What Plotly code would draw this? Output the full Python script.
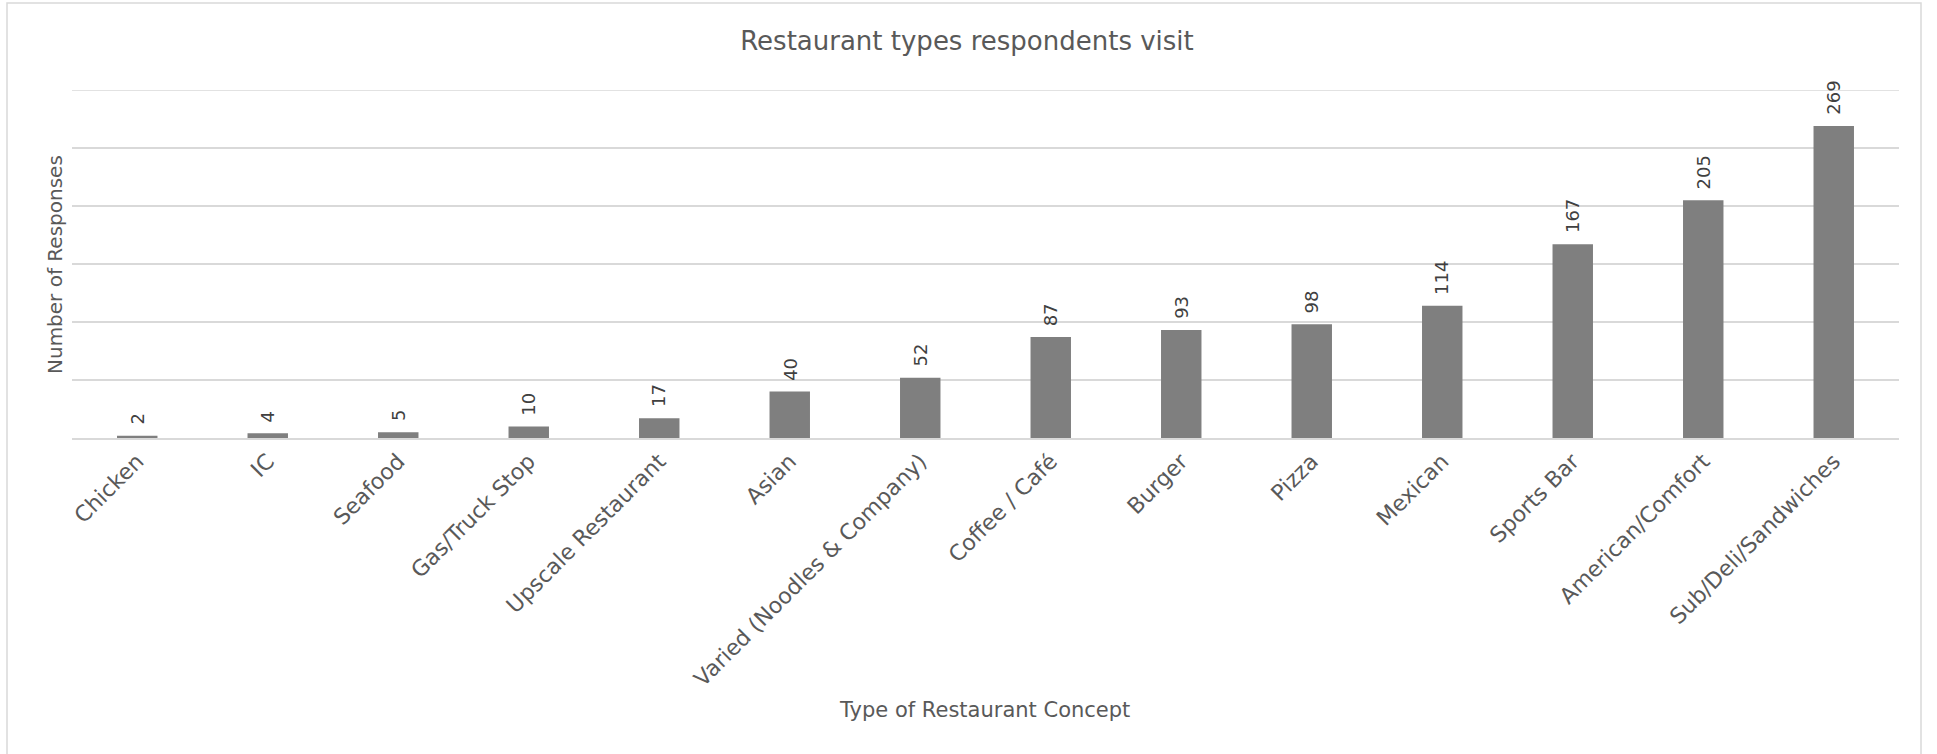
import plotly.graph_objects as go

categories = ["Chicken", "IC", "Seafood", "Gas/Truck Stop", "Upscale Restaurant", "Asian",
              "Varied (Noodles & Company)", "Coffee / Café", "Burger", "Pizza", "Mexican",
              "Sports Bar", "American/Comfort", "Sub/Deli/Sandwiches"]
responses = [2, 4, 5, 10, 17, 40, 52, 87, 93, 98, 114, 167, 205, 269]

title_text = "Restaurant types respondents visit"
x_title = "Type of Restaurant Concept"
y_title = "Number of Responses"

FONT = "DejaVu Sans"
TXT = "#595959"

W, H = 1937, 754
L, R, T, B = 72, 38, 90, 316
pw = W - L - R
ph = H - T - B

fig = go.Figure()
fig.add_trace(go.Bar(
    x=categories, y=responses,
    marker=dict(color="#7f7f7f", line=dict(width=0)),
    hoverinfo="x+y",
))

# value labels, rotated, above each bar
for c, v in zip(categories, responses):
    fig.add_annotation(x=c, y=v, xref="x", yref="y", text=str(v),
                       textangle=-90, showarrow=False,
                       xanchor="center", yanchor="bottom", yshift=9,
                       font=dict(family=FONT, size=18, color="#404040"))

fig.update_layout(
    width=W, height=H,
    margin=dict(l=L, r=R, t=T, b=B, autoexpand=False),
    paper_bgcolor="white", plot_bgcolor="white",
    bargap=0.69,
    showlegend=False,
    font=dict(family=FONT, color=TXT),
    title=dict(text=title_text, x=(967 - L) / pw, xref="paper", xanchor="center",
               y=1 - 41 / H, yanchor="middle",
               font=dict(family=FONT, size=26, color=TXT)),
    xaxis=dict(
        tickangle=-45,
        tickfont=dict(family=FONT, size=22, color=TXT),
        showgrid=False,
        showline=True, linecolor="#d9d9d9", linewidth=1.5,
        ticks="",
    ),
    yaxis=dict(
        range=[0, 300], dtick=50,
        showticklabels=False,
        showgrid=True, gridcolor="#d9d9d9", gridwidth=1.5,
        zeroline=False, showline=False, ticks="",
    ),
)

# top gridline at 300 (edge of range)
fig.add_shape(type="line", xref="paper", yref="y", x0=0, x1=1, y0=300, y1=300,
              line=dict(color="#d9d9d9", width=1.5), layer="below")

# axis titles
fig.add_annotation(text=x_title, xref="paper", yref="paper", x=0.5, y=0,
                   yshift=-(710 - (H - B)), xshift=984 - (L + pw / 2),
                   showarrow=False, font=dict(family=FONT, size=21, color=TXT),
                   yanchor="middle", xanchor="center")
fig.add_annotation(text=y_title, xref="paper", yref="paper", x=0, y=0.5,
                   xshift=55 - L, yshift=(T + ph / 2) - 265,
                   textangle=-90, showarrow=False,
                   font=dict(family=FONT, size=20, color=TXT),
                   xanchor="center", yanchor="middle")

# chart border
fig.add_shape(type="rect", xref="paper", yref="paper",
              x0=(7 - L) / pw, x1=(1921 - L) / pw,
              y0=((H - B) - 760) / ph, y1=((H - B) - 3) / ph,
              line=dict(color="#d9d9d9", width=1.5), fillcolor="rgba(0,0,0,0)",
              layer="below")

fig.write_html("out.html", config={"displayModeBar": False},
               post_script="document.body.style.margin='0';document.body.style.overflow='hidden';")
